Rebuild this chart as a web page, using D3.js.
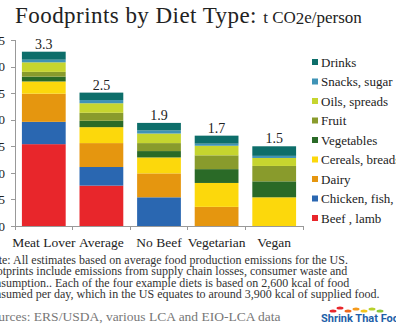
<!DOCTYPE html>
<html lang="en">
<head>
    <meta charset="UTF-8">
    <title>Foodprints by Diet Type</title>
    <script src="https://d3js.org/d3.v7.min.js"></script>
</head>
<body style="margin:0;background:#fff">

<style>
    text { font-family: "Liberation Serif", serif; fill: #222; }
    .axis text { font-size: 13px; fill: #222; }
    .axis line, .axis path { stroke: #999; shape-rendering: crispEdges; }
</style>

<script type="text/javascript">

    var diets = ["Meat Lover", "Average", "No Beef", "Vegetarian", "Vegan"];
    var totals = ["3.3", "2.5", "1.9", "1.7", "1.5"];
    var yTicks = [0, 0.5, 1, 1.5, 2, 2.5, 3, 3.5];

    // stacked bottom -> top
    var categories = ["Beef , lamb", "Chicken, fish, pork", "Dairy", "Cereals, breads",
        "Vegetables", "Fruit", "Oils, spreads", "Snacks, sugar", "Drinks"];
    var colors = ["#e8262b", "#2a67b1", "#e5960f", "#fcd80c",
        "#2a6a27", "#899b2c", "#c6d52f", "#3f93b6", "#0d6e6a"];

    var beef      = [1.54, 0.76, 0,    0,    0];
    var chicken   = [0.42, 0.35, 0.54, 0,    0];
    var dairy     = [0.53, 0.45, 0.45, 0.36, 0];
    var cereals   = [0.23, 0.30, 0.30, 0.45, 0.54];
    var vegetables= [0.09, 0.12, 0.12, 0.26, 0.30];
    var fruit     = [0.09, 0.15, 0.15, 0.26, 0.29];
    var oils      = [0.18, 0.18, 0.18, 0.18, 0.15];
    var snacks    = [0.05, 0.06, 0.06, 0.04, 0.04];
    var drinks    = [0.15, 0.14, 0.14, 0.15, 0.18];

    var series = [beef, chicken, dairy, cereals, vegetables, fruit, oils, snacks, drinks];

    var rows = diets.map(function(d, i){
        var r = {diet: d, total: totals[i]};
        categories.forEach(function(c, j){ r[c] = series[j][i]; });
        return r;
    });

    var svg = d3.select("body").append("svg")
            .attr("width", 396)
            .attr("height", 331);

    var xScale = d3.scaleBand().domain(diets).range([15, 303]).paddingInner(0.24).paddingOuter(0.12);
    var yScale = d3.scaleLinear().domain([0, 3.5]).range([226, 40]);

    var stack = d3.stack().keys(categories)(rows);

    svg.append("g").selectAll("g")
        .data(stack).enter()
        .append("g")
        .attr("fill", function(d, i){ return colors[i]; })
        .selectAll("rect")
        .data(function(d){ return d; }).enter()
        .append("rect")
        .attr("x", function(d){ return xScale(d.data.diet); })
        .attr("width", xScale.bandwidth())
        .attr("y", function(d){ return yScale(d[1]); })
        .attr("height", function(d){ return yScale(d[0]) - yScale(d[1]); });

    // totals above bars
    svg.append("g").selectAll("text")
        .data(rows).enter()
        .append("text")
        .attr("x", function(d){ return xScale(d.diet) + xScale.bandwidth() / 2; })
        .attr("y", function(d, i){
            var s = d3.sum(series, function(a){ return a[i]; });
            return yScale(s) - 3;
        })
        .attr("text-anchor", "middle")
        .style("font-size", "14px")
        .text(function(d){ return d.total; });

    // axes
    var yAxis = d3.axisLeft(yScale).tickValues(yTicks).tickFormat(d3.format(".1f")).tickSize(4).tickPadding(6);
    svg.append("g")
        .attr("class", "axis")
        .attr("transform", "translate(15,0)")
        .call(yAxis)
        .call(function(g){ g.select(".domain").attr("d", "M-4,40.5H0.5V226.5"); });

    var xAxis = d3.axisBottom(xScale).tickSize(0).tickPadding(11);
    var gx = svg.append("g")
        .attr("class", "axis")
        .attr("transform", "translate(0,226)")
        .call(xAxis);
    gx.select(".domain").attr("d", "M15.5,4V0.5H303.5V4");
    gx.selectAll("text").style("font-size", "13.5px");
    // separators between categories
    gx.selectAll(".sep")
        .data(diets.slice(1)).enter()
        .append("line")
        .attr("x1", function(d){ return xScale(d) - xScale.step() * xScale.paddingInner() / 2; })
        .attr("x2", function(d){ return xScale(d) - xScale.step() * xScale.paddingInner() / 2; })
        .attr("y1", 0).attr("y2", 4)
        .attr("stroke", "#999");

    // title
    var title = svg.append("text")
        .attr("x", 15)
        .attr("y", 23);
    title.append("tspan").style("font-size", "23px").style("letter-spacing", "0.45px").text("Foodprints by Diet Type: ");
    var sub = title.append("tspan").style("font-size", "17px");
    sub.append("tspan").text("t CO");
    sub.append("tspan").attr("dy", 1).text("2");
    sub.append("tspan").attr("dy", -1).text("e/person");

    // legend, top item first
    var legend = svg.append("g").selectAll("g")
        .data(categories.slice().reverse()).enter()
        .append("g")
        .attr("transform", function(d, i){ return "translate(312," + (62 + i * 19.5) + ")"; });
    legend.append("rect")
        .attr("x", 0).attr("y", -3)
        .attr("width", 6).attr("height", 6)
        .attr("fill", function(d){ return colors[categories.indexOf(d)]; });
    legend.append("text")
        .attr("x", 9).attr("y", 4.5)
        .style("font-size", "13px")
        .text(function(d){ return d; });

    // notes
    var notes = [
        "Note: All estimates based on average food production emissions for the US.",
        "Footprints include emissions from supply chain losses, consumer waste and",
        "consumption..  Each of the four example diets is based on 2,600 kcal of food",
        "consumed per day, which in the US equates to around 3,900 kcal of supplied food."
    ];
    svg.append("g").selectAll("text")
        .data(notes).enter()
        .append("text")
        .attr("x", -16)
        .attr("y", function(d, i){ return 264 + i * 11.4; })
        .style("font-size", "12px")
        .style("fill", "#333")
        .text(function(d){ return d; });

    svg.append("text")
        .attr("x", -16).attr("y", 321)
        .style("font-size", "13.5px")
        .style("fill", "#777")
        .text("Sources:  ERS/USDA, various LCA and EIO-LCA data");

    // logo
    var feet = [["#e8262b", 333, 311], ["#e8262b", 340, 308], ["#f06a1c", 348, 311], ["#f59a1c", 356, 309], ["#f5c51c", 364, 311], ["#b8d12a", 372, 309], ["#8cc43a", 380, 311]];
    svg.append("g").selectAll("ellipse")
        .data(feet).enter()
        .append("ellipse")
        .attr("cx", function(d){ return d[1]; })
        .attr("cy", function(d){ return d[2]; })
        .attr("rx", 3.5).attr("ry", 1.6)
        .attr("fill", function(d){ return d[0]; });
    svg.append("text")
        .attr("x", 321).attr("y", 322)
        .style("font-family", "'Liberation Sans Narrow', 'Roboto', sans-serif")
        .style("font-weight", "bold")
        .style("font-size", "11px")
        .style("fill", "#1f5fa8")
        .text("Shrink That Footprint");

</script>

</body>
</html>
